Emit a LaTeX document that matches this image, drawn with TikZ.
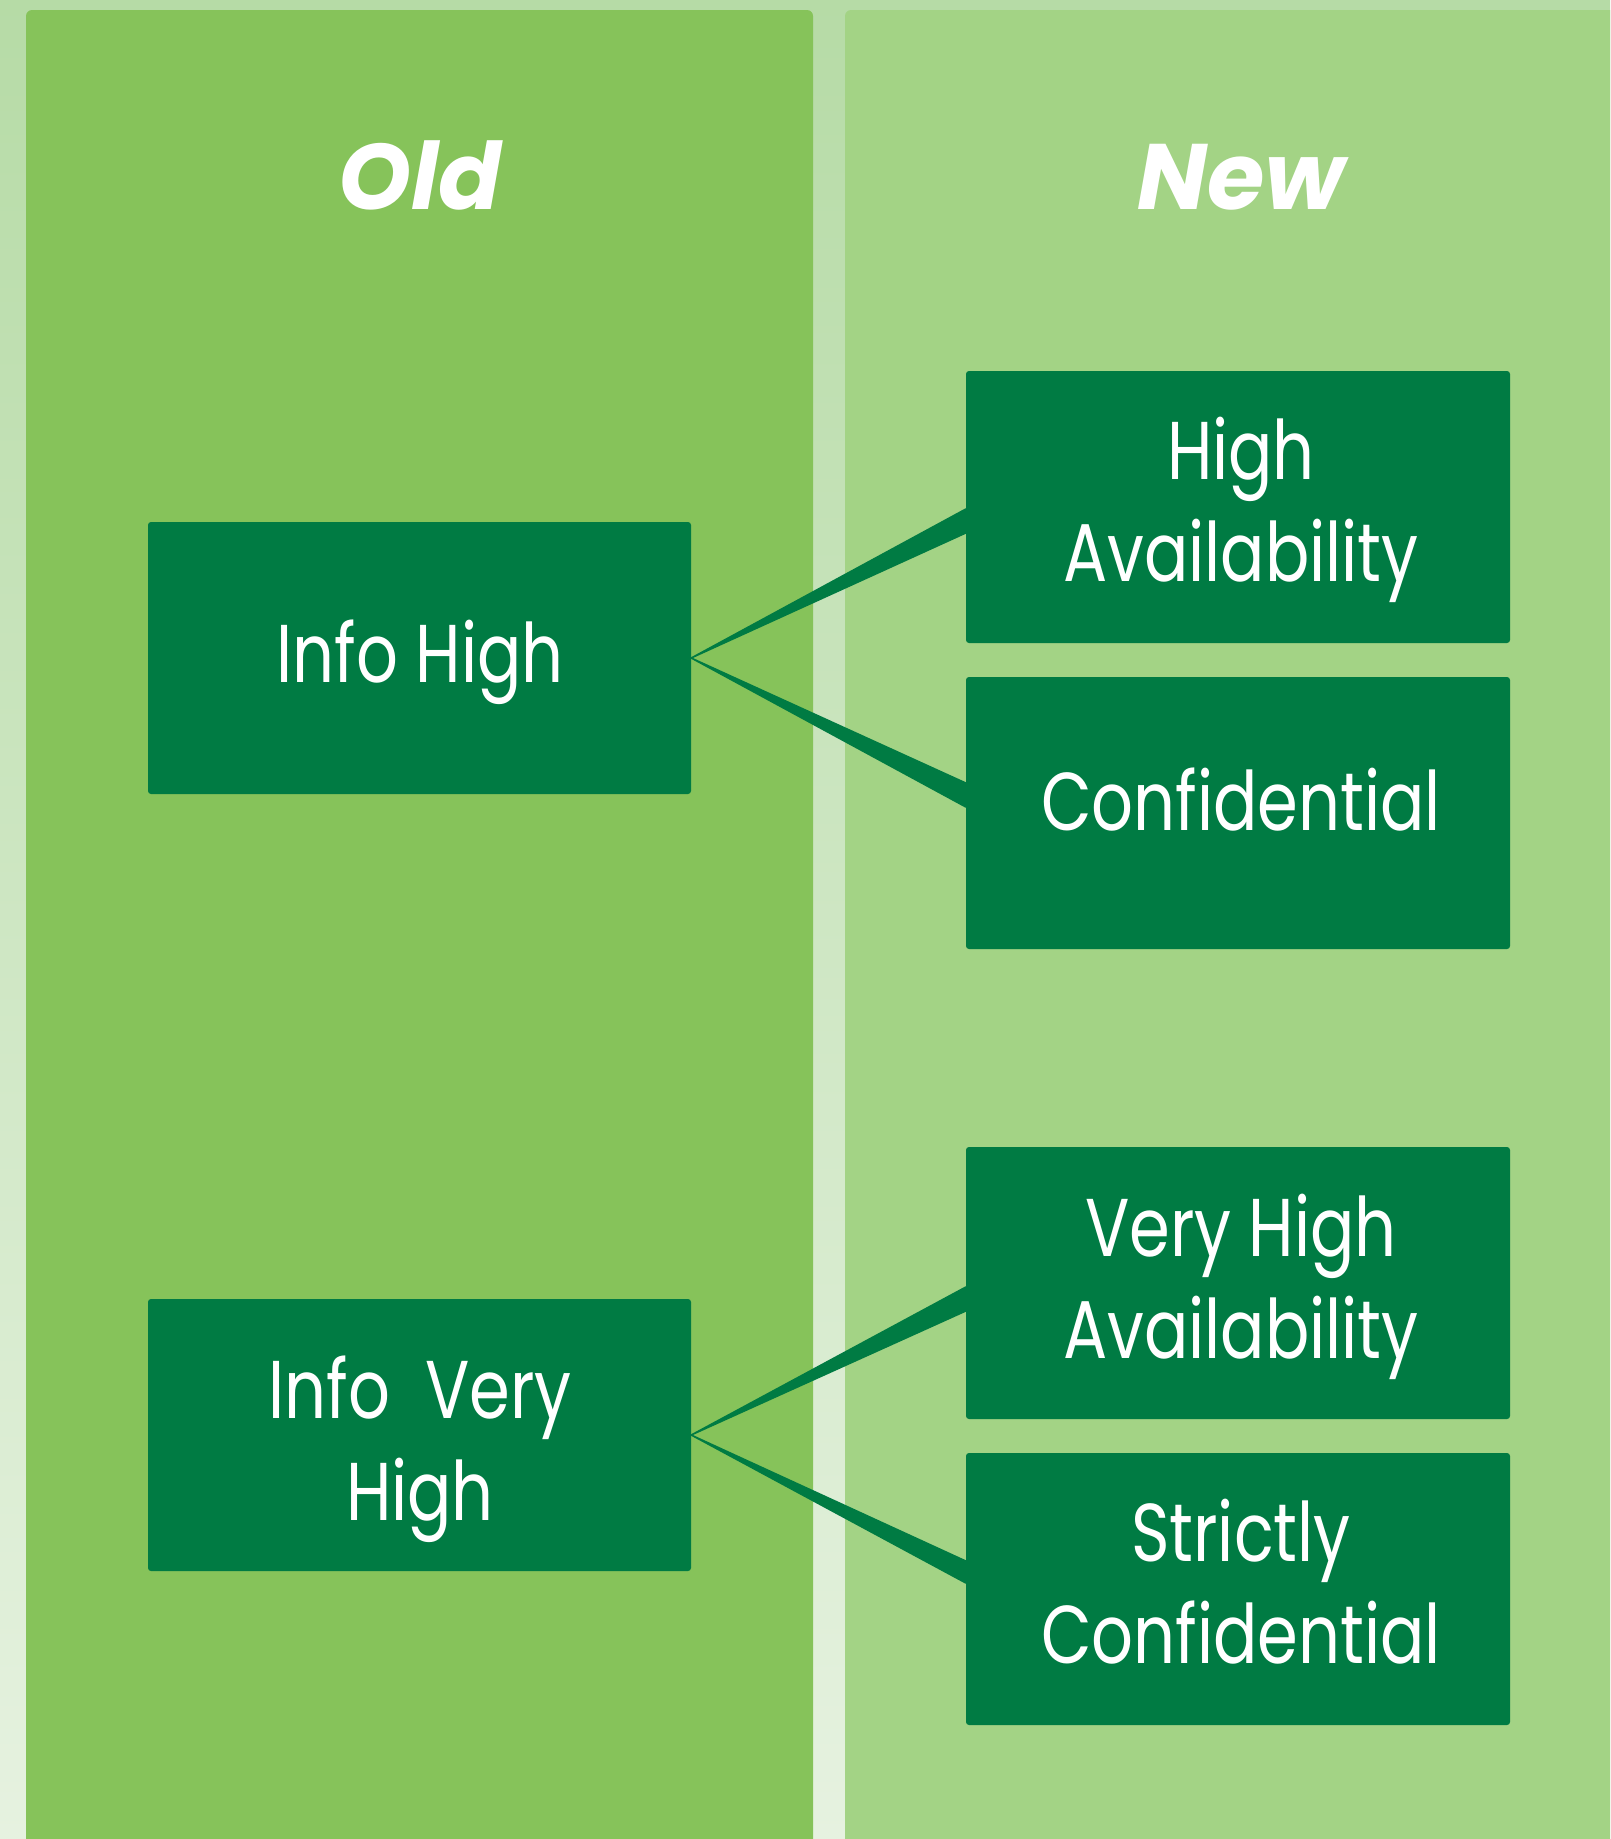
\documentclass[tikz,border=0pt]{standalone}
\usepackage{fontspec}
\newfontfamily\boxfont[FakeStretch=0.8]{Poppins}
\newfontfamily\headfont{Poppins}
\usetikzlibrary{calc}
\definecolor{bgtop}{HTML}{B6DBA6}
\definecolor{bgbot}{HTML}{E6F2E0}
\definecolor{oldcol}{HTML}{86C35A}
\definecolor{newcol}{HTML}{A3D385}
\definecolor{boxcol}{HTML}{007B43}
\begin{document}
\begin{tikzpicture}[x=1pt,y=-1pt,
  panel/.style={rounded corners=6pt},
  catbox/.style={fill=boxcol, rounded corners=3pt, minimum width=543pt, minimum height=272pt, inner sep=0pt},
  lbl/.style={text=white, font=\boxfont\fontsize{82}{102}\selectfont, inner sep=0pt, anchor=base},
  head/.style={text=white, font=\headfont\bfseries\itshape\fontsize{93}{110}\selectfont, inner sep=0pt, anchor=base},
  wedge/.style={fill=boxcol, draw=boxcol, line width=1.5pt, line join=round}]
\useasboundingbox (0,0) rectangle (1610,1839);
\clip (0,0) rectangle (1610,1839);
\shade[top color=bgtop, bottom color=bgbot] (0,0) rectangle (1610,1839);
\fill[oldcol, panel] (26,10) rectangle (813,1870);
\fill[newcol, panel] (845,10) rectangle (1640,1870);

\node[head] (old) at (420,209) {Old};
\node[head] (new) at (1241,209) {New};

\node[catbox] (ih) at (419.5,658) {};
\node[catbox] (ivh) at (419.5,1435) {};
\node[catbox, minimum width=544pt] (ha) at (1238,507) {};
\node[catbox, minimum width=544pt] (conf) at (1238,813) {};
\node[catbox, minimum width=544pt] (vha) at (1238,1283) {};
\node[catbox, minimum width=544pt] (sc) at (1238,1589) {};

\node[lbl] (iht) at (420,682) {Info High};
\node[lbl] (ivht) at (420,1418) {\begin{tabular}[t]{@{}c@{}}Info\ \ Very\\High\end{tabular}};
\node[lbl] (hat) at (1241,479) {\begin{tabular}[t]{@{}c@{}}High\\Availability\end{tabular}};
\node[lbl] (conft) at (1241,830) {Confidential};
\node[lbl] (vhat) at (1241,1256) {\begin{tabular}[t]{@{}c@{}}Very High\\Availability\end{tabular}};
\node[lbl] (sct) at (1241,1561) {\begin{tabular}[t]{@{}c@{}}Strictly\\Confidential\end{tabular}};

\filldraw[wedge] (ih.east) -- ($(ih.east -| ha.west)+(0,-149)$) -- ($(ih.east -| ha.west)+(0,-125)$) -- cycle;
\filldraw[wedge] (ih.east) -- ($(ih.east -| conf.west)+(0,125)$) -- ($(ih.east -| conf.west)+(0,149)$) -- cycle;
\filldraw[wedge] (ivh.east) -- ($(ivh.east -| vha.west)+(0,-148)$) -- ($(ivh.east -| vha.west)+(0,-124)$) -- cycle;
\filldraw[wedge] (ivh.east) -- ($(ivh.east -| sc.west)+(0,126)$) -- ($(ivh.east -| sc.west)+(0,148)$) -- cycle;
\end{tikzpicture}
\end{document}
